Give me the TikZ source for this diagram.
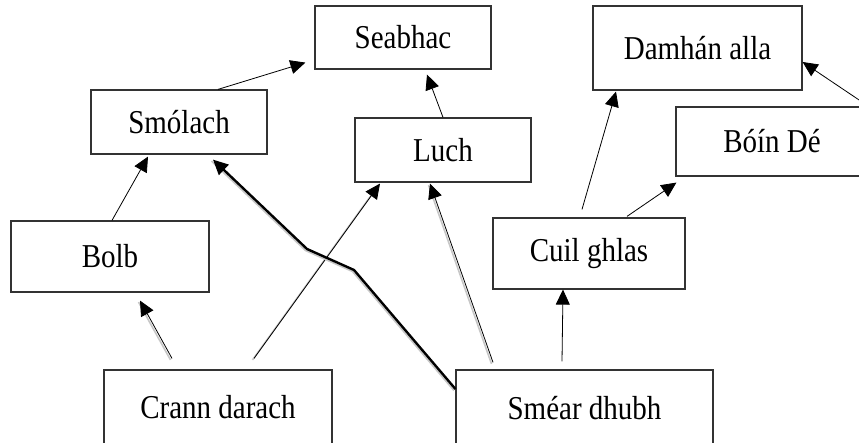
\documentclass[tikz,border=0pt]{standalone}
\usepackage{graphicx}
\usepackage{fontspec}
\setmainfont{Liberation Serif}
\usetikzlibrary{arrows.meta,calc}
\newcommand\vtxt[1]{\scalebox{1}[1.15]{#1}}
\begin{document}
\begin{tikzpicture}[x=1pt,y=1pt,
  box/.style={draw=black!80, line width=1.2pt, fill=white, inner sep=0pt, font=\fontsize{29}{34}\selectfont},
  conn/.style={draw=black, line width=0.8pt, -{Triangle[length=15pt,width=14pt]}},
  heavy/.style={conn, line width=2.4pt},
  shade/.style={preaction={draw=black!22, line width=1.6pt, -, transform canvas={shift={(-1.5pt,-1.5pt)}}}}
]
\useasboundingbox (0,0) rectangle (859,443);
\clip (0,0) rectangle (859,443);

\node[box, minimum width=176pt, minimum height=63pt] (seabhac) at (403,405.5) {\vtxt{Seabhac}};
\node[box, minimum width=209pt, minimum height=84pt] (damhan) at (697.5,395) {\vtxt{Damhán alla}};
\node[box, minimum width=176pt, minimum height=64pt] (smolach) at (179,321) {\vtxt{Smólach}};
\node[box, minimum width=176pt, minimum height=64pt] (luch) at (443,293) {\vtxt{Luch}};
\node[box, minimum width=192pt, minimum height=69pt] (boin) at (772,301.5) {\vtxt{Bóín Dé}};
\node[box, minimum width=198pt, minimum height=71pt] (bolb) at (110,186.5) {\vtxt{Bolb}};
\node[box, minimum width=192pt, minimum height=71pt] (cuil) at (589,189.5) {\vtxt{Cuil ghlas}};
\node[box, minimum width=228pt, minimum height=74pt] (crann) at (218,36) {\vtxt{Crann darach}};
\node[box, minimum width=257pt, minimum height=76pt] (smear) at (584.5,35) {\vtxt{Sméar dhubh}};

\draw[conn] ($(smolach.north)+(39,0)$) -- ($(seabhac.south west)+(-9,7)$);
\draw[conn] (luch.north) -- ($(seabhac.south)+(24,-5)$);
\draw[conn] ($(bolb.north)+(2,0)$) -- ($(smolach.south)+(-31,-2)$);
\draw[conn, shade] ($(crann.north)+(-46,11)$) -- ($(bolb.south)+(30,-8)$);
\draw[conn, shade] ($(crann.north)+(36,11)$) -- ($(luch.south)+(-63,-1)$);
\draw[heavy, shade] ($(smear.west)+(0,19)$) -- (354,173) -- (307,194) -- ($(smolach.south)+(34,-5)$);
\draw[conn, shade] ($(smear.north)+(-91.5,7)$) -- ($(luch.south)+(-13,-1)$);
\draw[conn] ($(smear.north)+(-22.5,8)$) -- ($(cuil.south)+(-26,0)$);
\draw[conn] ($(cuil.north)+(-7,8)$) -- ($(damhan.south)+(-81.5,-1)$);
\draw[conn] ($(cuil.north)+(38,1)$) -- ($(boin.south west)+(1,-6)$);
\draw[conn] (boin.north east) -- ($(damhan.east)+(0,-14)$);
\end{tikzpicture}
\end{document}
